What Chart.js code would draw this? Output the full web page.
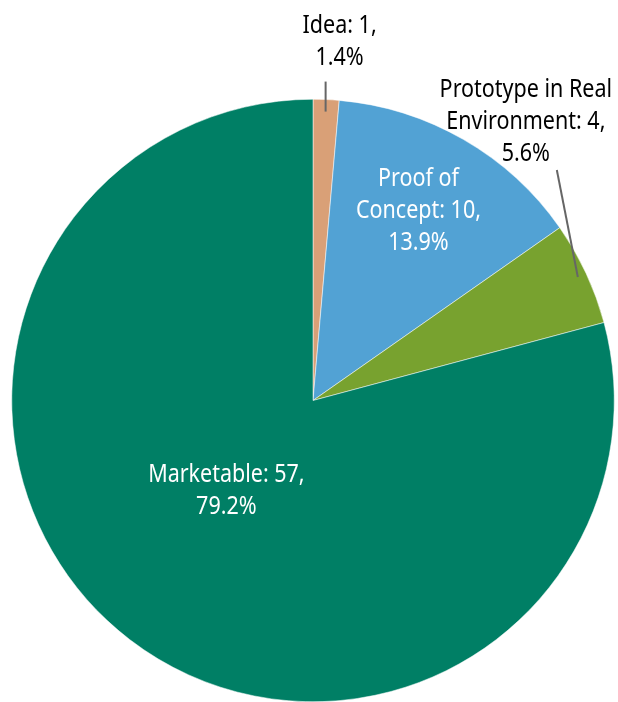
<!DOCTYPE html>
<html>
<head>
<meta charset="utf-8">
<script src="https://cdn.jsdelivr.net/npm/chart.js@4/dist/chart.umd.min.js"></script>
<style>
  html, body { margin: 0; padding: 0; background: #fff; }
  #wrap { width: 618px; height: 702px; }
</style>
</head>
<body>
<div id="wrap"><canvas id="pieChart"></canvas></div>
<script>
const categories = ['Idea', 'Proof of Concept', 'Prototype in Real Environment', 'Marketable'];
const counts = [1, 10, 4, 57];
const percents = ['1.4%', '13.9%', '5.6%', '79.2%'];
const sliceColors = ['#d9a077', '#52a2d4', '#78a22f', '#007f65'];

// label text lines (as printed on the chart)
const labelLines = [
  ['Idea: 1,', '1.4%'],
  ['Proof of', 'Concept: 10,', '13.9%'],
  ['Prototype in Real', 'Environment: 4,', '5.6%'],
  ['Marketable: 57,', '79.2%']
];

// placement of each label: inside labels sit at a radius fraction / angle;
// outside labels get a leader line from the slice edge
const labelPlacement = [
  { inside: false, color: '#000', anchorR: 0.96, lineDx: 0, lineDy: -30, textDx: 14, textDy: -70 },
  { inside: true, color: '#fff', r: 0.70, dAngle: 0, dx: 0, dy: -7 },
  { inside: false, color: '#000', anchorR: 0.97, lineDx: -21, lineDy: -107, textDx: -52, textDy: -155 },
  { inside: true, color: '#fff', r: 0.40, dAngle: 12, dx: 5, dy: 12 }
];

// Myriad-like look: slightly taller type squeezed horizontally
const FONT = '25px "Noto Sans", sans-serif';
const SQUEEZE = 0.86;
const LINE_H = 32;

const pieLabels = {
  id: 'pieLabels',
  afterDatasetsDraw(chart) {
    const ctx = chart.ctx;
    const arcs = chart.getDatasetMeta(0).data;
    ctx.save();
    arcs.forEach((arc, i) => {
      const p = labelPlacement[i];
      const { x, y, startAngle, endAngle, outerRadius } = arc.getProps(['x', 'y', 'startAngle', 'endAngle', 'outerRadius'], true);
      const mid = (startAngle + endAngle) / 2;
      const lines = labelLines[i];
      let cx, cy;
      if (p.inside) {
        const a = mid + p.dAngle * Math.PI / 180;
        cx = x + Math.cos(a) * outerRadius * p.r + p.dx;
        cy = y + Math.sin(a) * outerRadius * p.r + p.dy;
      } else {
        const ax = x + Math.cos(mid) * outerRadius * p.anchorR;
        const ay = y + Math.sin(mid) * outerRadius * p.anchorR;
        ctx.strokeStyle = '#666';
        ctx.lineWidth = 2;
        ctx.beginPath();
        ctx.moveTo(ax, ay);
        ctx.lineTo(ax + p.lineDx, ay + p.lineDy);
        ctx.stroke();
        cx = ax + p.textDx;
        cy = ay + p.textDy;
      }
      const top = cy - (lines.length - 1) * LINE_H / 2;
      lines.forEach((t, k) => {
        ctx.save();
        ctx.translate(cx, top + k * LINE_H);
        ctx.scale(SQUEEZE, 1);
        ctx.font = FONT;
        ctx.textAlign = 'center';
        ctx.textBaseline = 'middle';
        ctx.fillStyle = p.color;
        ctx.fillText(t, 0, 0);
        ctx.restore();
      });
    });
    ctx.restore();
  }
};

new Chart(document.getElementById('pieChart'), {
  type: 'pie',
  data: {
    labels: categories,
    datasets: [{
      data: counts,
      backgroundColor: sliceColors,
      borderColor: '#ffffff',
      borderWidth: 0.5
    }]
  },
  options: {
    responsive: true,
    maintainAspectRatio: false,
    animation: false,
    layout: { padding: { top: 99, left: 11, right: 3, bottom: 0 } },
    plugins: {
      legend: { display: false },
      tooltip: { enabled: false }
    }
  },
  plugins: [pieLabels]
});
</script>
</body>
</html>
